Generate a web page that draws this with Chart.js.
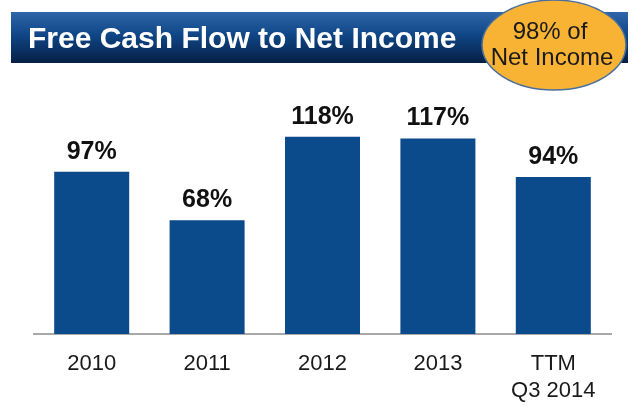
<!DOCTYPE html>
<html>
<head>
<meta charset="utf-8">
<title>Free Cash Flow to Net Income</title>
<script src="https://cdn.jsdelivr.net/npm/chart.js@4/dist/chart.umd.min.js"></script>
<style>
  html, body { margin: 0; padding: 0; background: #fff; }
  canvas { display: block; }
</style>
</head>
<body>
<canvas id="fcfChart" width="636" height="406"></canvas>
<script>
const periods = ["2010", "2011", "2012", "2013", ["TTM", "Q3 2014"]];
const fcfToNetIncome = [97, 68, 118, 117, 94];
const titleText = "Free Cash Flow to Net Income";
const badgeLines = ["98% of", "Net Income"];

const FONT = "'Liberation Sans', Arial, Helvetica, sans-serif";

// header band with the badge ellipse on top of it
const headerPlugin = {
  id: "header",
  afterDraw(chart) {
    const c = chart.ctx;
    c.save();
    const grad = c.createLinearGradient(0, 12, 0, 63);
    grad.addColorStop(0, "#2f66aa");
    grad.addColorStop(0.45, "#0f4686");
    grad.addColorStop(1, "#061f45");
    c.fillStyle = grad;
    c.fillRect(11, 12, 617, 51);

    c.fillStyle = "#ffffff";
    c.font = "bold 30px " + FONT;
    c.textBaseline = "alphabetic";
    c.textAlign = "left";
    c.fillText(titleText, 28, 48);

    c.beginPath();
    c.ellipse(554, 45, 72, 45, 0, 0, Math.PI * 2);
    c.fillStyle = "#f8b334";
    c.fill();
    c.lineWidth = 1.5;
    c.strokeStyle = "#4a6f9e";
    c.stroke();

    c.fillStyle = "#1a1a1a";
    c.font = "24px " + FONT;
    c.textAlign = "center";
    c.fillText(badgeLines[0], 550, 39);
    c.fillText(badgeLines[1], 552, 65);
    c.restore();
  }
};

// percentage labels above each bar
const valueLabels = {
  id: "valueLabels",
  afterDatasetsDraw(chart) {
    const c = chart.ctx;
    const meta = chart.getDatasetMeta(0);
    c.save();
    c.fillStyle = "#111111";
    c.font = "bold 25px " + FONT;
    c.textAlign = "center";
    c.textBaseline = "alphabetic";
    meta.data.forEach((bar, i) => {
      c.fillText(fcfToNetIncome[i] + "%", bar.x, bar.y - 13);
    });
    c.restore();
  }
};

new Chart(document.getElementById("fcfChart"), {
  type: "bar",
  data: {
    labels: periods,
    datasets: [
      {
        data: fcfToNetIncome,
        backgroundColor: "#0b4a8b",
        categoryPercentage: 1,
        barPercentage: 0.65,
      },
    ],
  },
  options: {
    responsive: false,
    animation: false,
    devicePixelRatio: 1,
    layout: { padding: { left: 34, right: 25, top: 100, bottom: -15 } },
    plugins: {
      legend: { display: false },
      tooltip: { enabled: false },
    },
    scales: {
      y: { display: false, min: 0, max: 140 },
      x: {
        grid: { display: true, drawOnChartArea: false, drawTicks: false },
        border: { display: true, color: "#a9a9a9", width: 2 },
        ticks: {
          color: "#1a1a1a",
          padding: 16,
          font: { family: FONT, size: 22, lineHeight: 1.25 },
          maxRotation: 0,
        },
      },
    },
  },
  plugins: [valueLabels, headerPlugin],
});
</script>
</body>
</html>
